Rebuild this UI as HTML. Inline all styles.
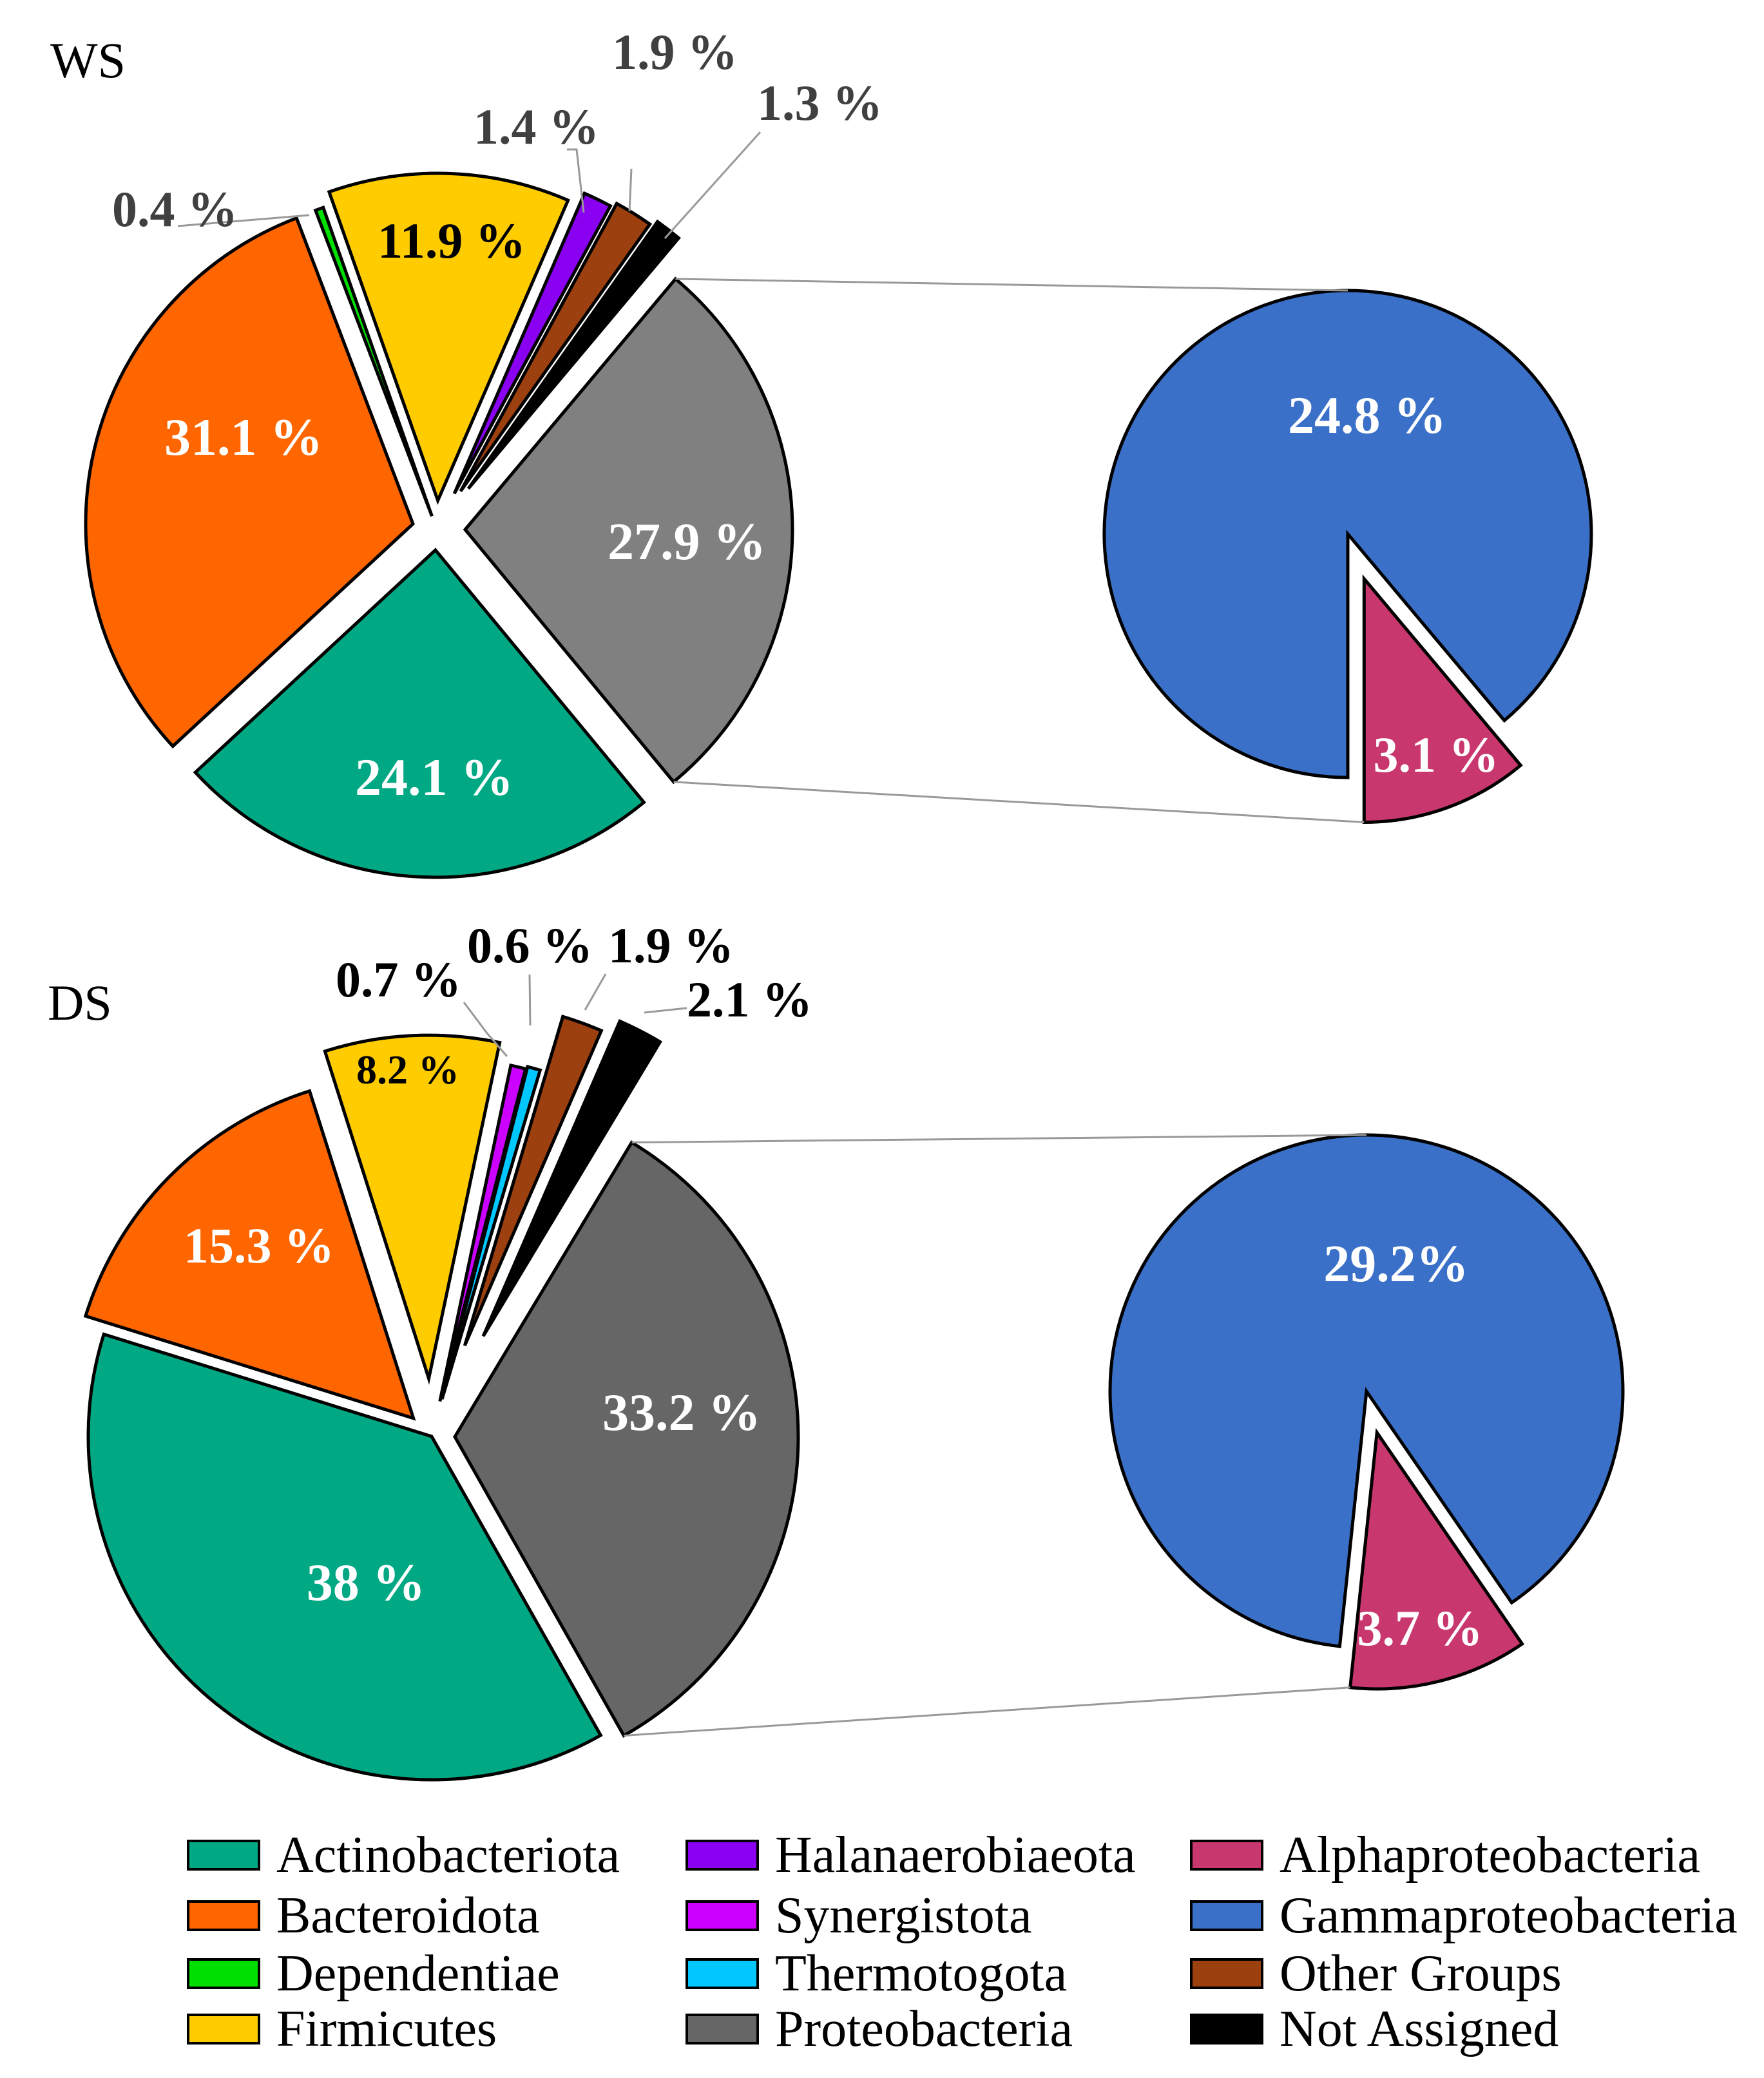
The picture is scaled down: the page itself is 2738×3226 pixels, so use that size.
<!DOCTYPE html>
<html><head><meta charset="utf-8">
<style>
html,body{margin:0;padding:0;background:#fff;}
svg{display:block;}
text{font-family:"Liberation Serif",serif;}
</style></head>
<body>
<svg id="chart" xmlns="http://www.w3.org/2000/svg" width="2738" height="3226" viewBox="0 0 2738 3226">
<g id="g-ws"></g>
<g id="g-ds"></g>
<g id="g-legend"></g>
</svg>
<script>
// ---- data ----
const wsCategories = ["Proteobacteria","Actinobacteriota","Bacteroidota","Dependentiae","Firmicutes","Halanaerobiaeota","Other Groups","Not Assigned"];
const wsValues = [27.9,24.1,31.1,0.4,11.9,1.4,1.9,1.3];
const wsLabels = ["27.9 %","24.1 %","31.1 %","0.4 %","11.9 %","1.4 %","1.9 %","1.3 %"];
const wsSubCategories = ["Gammaproteobacteria","Alphaproteobacteria"];
const wsSubValues = [24.8,3.1];
const wsSubLabels = ["24.8 %","3.1 %"];

const dsCategories = ["Proteobacteria","Actinobacteriota","Bacteroidota","Firmicutes","Synergistota","Thermotogota","Other Groups","Not Assigned"];
const dsValues = [33.2,38,15.3,8.2,0.7,0.6,1.9,2.1];
const dsLabels = ["33.2 %","38 %","15.3 %","8.2 %","0.7 %","0.6 %","1.9 %","2.1 %"];
const dsSubCategories = ["Gammaproteobacteria","Alphaproteobacteria"];
const dsSubValues = [29.2,3.7];
const dsSubLabels = ["29.2%","3.7 %"];

const legendNames = ["Actinobacteriota","Bacteroidota","Dependentiae","Firmicutes","Halanaerobiaeota","Synergistota","Thermotogota","Proteobacteria","Alphaproteobacteria","Gammaproteobacteria","Other Groups","Not Assigned"];

// ---- styles ----
const colors = {"Actinobacteriota":"#00A884","Bacteroidota":"#FF6600","Dependentiae":"#00E000","Firmicutes":"#FFCC00","Halanaerobiaeota":"#8A00F0","Synergistota":"#CC00FF","Thermotogota":"#00C8FF","Proteobacteria":"#7F7F7F","Alphaproteobacteria":"#C8386E","Gammaproteobacteria":"#3A70C8","Other Groups":"#9C4010","Not Assigned":"#000000"};
const NS="http://www.w3.org/2000/svg";
function mk(tag,attrs,parent){const e=document.createElementNS(NS,tag);for(const k in attrs)e.setAttribute(k,attrs[k]);parent.appendChild(e);return e;}
function pt(cx,cy,r,a){const t=a*Math.PI/180;return [cx+r*Math.sin(t),cy-r*Math.cos(t)];}
function wedge(cx,cy,r,a0,a1){const p0=pt(cx,cy,r,a0),p1=pt(cx,cy,r,a1);const large=(a1-a0)>180?1:0;return `M${cx},${cy} L${p0[0]},${p0[1]} A${r},${r} 0 ${large} 1 ${p1[0]},${p1[1]} Z`;}

function drawPie(g,cats,vals,cx,cy,r,start,explode,grayCol,name){
  const total=vals.reduce((a,b)=>a+b,0);let a=start;const res=[];
  cats.forEach((c,i)=>{
    const sweep=vals[i]/total*360;const mid=a+sweep/2;
    const o=pt(0,0,explode[i],mid);
    const p=mk('path',{d:wedge(cx+o[0],cy+o[1],r,a,a+sweep),fill:c==="Proteobacteria"?grayCol:colors[c],stroke:"#000","stroke-width":5,"stroke-linejoin":"miter"},g);
    
    
    res.push({a0:a,a1:a+sweep,ox:o[0],oy:o[1]});a+=sweep;
  });return res;
}
function label(g,txt,x,y,size,fill,anchor,name){
  const t=mk('text',{x:x,y:y,"font-size":size,"font-weight":"bold",fill:fill,"text-anchor":anchor||"middle"},g);t.textContent=txt;
  
  
}
function line(g,pts,name){const l=mk('polyline',{points:pts.map(p=>p.join(',')).join(' '),fill:"none",stroke:"#999","stroke-width":3},g);
  
  }

// ---- WS ----
(function(){
  const g=document.getElementById('g-ws');
  const t=mk('text',{x:78,y:120,"font-size":78,fill:"#000"},g);t.textContent="WS";
  
  
  const cx=678,cy=822,r=508;
  const sl=drawPie(g,wsCategories,wsValues,cx,cy,r,40,[44,32,38,22,45,62,70,80],"#808080","ws");
  const scx=2092,scy=829,sr=378;const tot=wsSubValues[0]+wsSubValues[1];
  const pinkSweep=wsSubValues[1]/tot*360;const ps=180-pinkSweep;
  const b=mk('path',{d:wedge(scx,scy,sr,180,ps+360),fill:colors.Gammaproteobacteria,stroke:"#000","stroke-width":5},g);
  
  
  const po=pt(0,0,74,ps+pinkSweep/2);
  const p=mk('path',{d:wedge(scx+po[0],scy+po[1],sr,ps,180),fill:colors.Alphaproteobacteria,stroke:"#000","stroke-width":5},g);
  
  
  const s=sl[0];const top=pt(cx+s.ox,cy+s.oy,r,s.a0),bot=pt(cx+s.ox,cy+s.oy,r,s.a1);
  line(g,[top,[scx,scy-sr]],'ws-connector-top');
  line(g,[bot,pt(scx+po[0],scy+po[1],sr,180)],'ws-connector-bottom');
  line(g,[[276,351],[480,334]],'ws-leader-0.4');
  line(g,[[906,330],[895,232],[880,232]],'ws-leader-1.4');
  line(g,[[977,328],[980,262]],'ws-leader-1.9');
  line(g,[[1032,370],[1180,205]],'ws-leader-1.3');
  label(g,wsLabels[0],1066,868,82,"#fff","middle",'ws-label-proteobacteria');
  label(g,wsLabels[1],674,1234,82,"#fff","middle",'ws-label-actinobacteriota');
  label(g,wsLabels[2],378,706,82,"#fff","middle",'ws-label-bacteroidota');
  label(g,wsLabels[3],174,351,78,"#404040","start",'ws-label-dependentiae');
  label(g,wsLabels[4],701,400,78,"#000","middle",'ws-label-firmicutes');
  label(g,wsLabels[5],735,223,78,"#404040","start",'ws-label-halanaerobiaeota');
  label(g,wsLabels[6],950,107,78,"#404040","start",'ws-label-other');
  label(g,wsLabels[7],1175,186,78,"#404040","start",'ws-label-not-assigned');
  label(g,wsSubLabels[0],2104+18,672,82,"#fff","middle",'ws-sub-label-gamma');
  label(g,wsSubLabels[1],2213+16,1198,78,"#fff","middle",'ws-sub-label-alpha');
})();

// ---- DS ----
(function(){
  const g=document.getElementById('g-ds');
  const t=mk('text',{x:74,y:1583,"font-size":78,fill:"#000"},g);t.textContent="DS";
  
  
  const cx=670,cy=2230,r=533;
  const sl=drawPie(g,dsCategories,dsValues,cx,cy,r,31,[36,0,40,90,56,60,150,175],"#666666","ds");
  const scx=2121,scy=2160,sr=398;const tot=dsSubValues[0]+dsSubValues[1];
  const pinkSweep=dsSubValues[1]/tot*360;const pe=186;const ps=pe-pinkSweep;
  const b=mk('path',{d:wedge(scx,scy,sr,pe,ps+360),fill:colors.Gammaproteobacteria,stroke:"#000","stroke-width":5},g);
  
  
  const po=pt(0,0,66,ps+pinkSweep/2);
  const p=mk('path',{d:wedge(scx+po[0],scy+po[1],sr,ps,pe),fill:colors.Alphaproteobacteria,stroke:"#000","stroke-width":5},g);
  
  
  const s=sl[0];const top=pt(cx+s.ox,cy+s.oy,r,s.a0),bot=pt(cx+s.ox,cy+s.oy,r,s.a1);
  line(g,[top,[scx,scy-sr]],'ds-connector-top');
  line(g,[bot,pt(scx+po[0],scy+po[1],sr,pe)],'ds-connector-bottom');
  line(g,[[787,1640],[756,1604],[720,1556]],'ds-leader-0.7');
  line(g,[[823,1592],[822,1513]],'ds-leader-0.6');
  line(g,[[908,1568],[940,1512]],'ds-leader-1.9');
  line(g,[[1000,1572],[1066,1565]],'ds-leader-2.1');
  label(g,dsLabels[0],1058,2220,82,"#fff","middle",'ds-label-proteobacteria');
  label(g,dsLabels[1],568,2484,82,"#fff","middle",'ds-label-actinobacteriota');
  label(g,dsLabels[2],402,1960,78,"#fff","middle",'ds-label-bacteroidota');
  label(g,dsLabels[3],633,1682,64,"#000","middle",'ds-label-firmicutes');
  label(g,dsLabels[4],521,1547,78,"#000","start",'ds-label-synergistota');
  label(g,dsLabels[5],725,1494,78,"#000","start",'ds-label-thermotogota');
  label(g,dsLabels[6],944,1494,78,"#000","start",'ds-label-other');
  label(g,dsLabels[7],1066,1578,78,"#000","start",'ds-label-not-assigned');
  label(g,dsSubLabels[0],2149+18,1989,82,"#fff","middle",'ds-sub-label-gamma');
  label(g,dsSubLabels[1],2186+18,2554,78,"#fff","middle",'ds-sub-label-alpha');
})();

// ---- legend ----
(function(){
  const g=document.getElementById('g-legend');
  const colX=[292,1066,1849],rowY=[2880,2974,3064,3150];
  legendNames.forEach((n,i)=>{
    const c=Math.floor(i/4),rw=i%4;
    const grp=mk('g',{},g);
    
    
    const col=n==="Proteobacteria"?"#666666":colors[n];
    mk('rect',{x:colX[c],y:rowY[rw]-22,width:110,height:44,fill:col,stroke:"#000","stroke-width":4},grp);
    const t=mk('text',{x:colX[c]+137,y:rowY[rw]+26,"font-size":80,fill:"#000"},grp);t.textContent=n;
  });
})();
</script>
</body></html>
